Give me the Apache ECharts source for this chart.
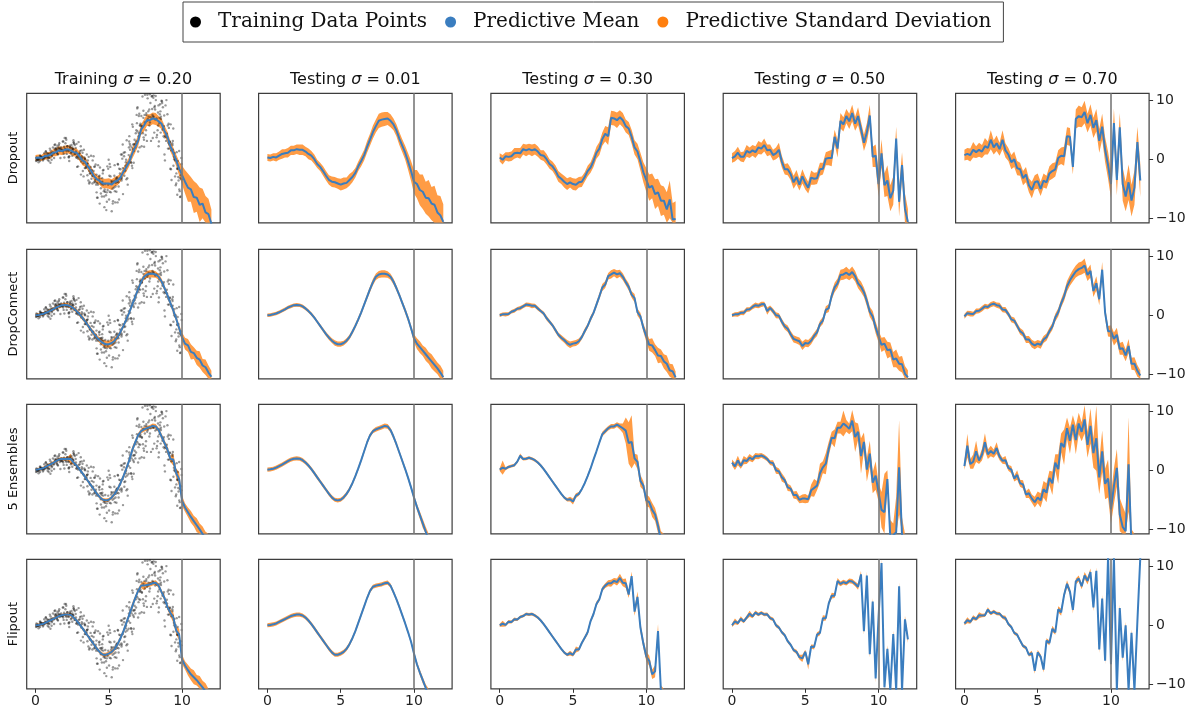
<!DOCTYPE html>
<html>
<head>
<meta charset="utf-8">
<script src="https://cdn.jsdelivr.net/npm/echarts@6.0.0/dist/echarts.min.js"></script>
<style>
html, body { margin: 0; padding: 0; background: #fff; }
#main { width: 1194px; height: 715px; }
</style>
</head>
<body>
<div id="main"></div>
<script>
// x positions shared by every predictive curve
const XS = [0,0.2,0.4,0.6,0.8,1,1.2,1.4,1.6,1.8,
  2,2.2,2.4,2.6,2.8,3,3.2,3.4,3.6,3.8,
  4,4.2,4.4,4.6,4.8,5,5.2,5.4,5.6,5.8,
  6,6.2,6.4,6.6,6.8,7,7.2,7.4,7.6,7.8,
  8,8.2,8.4,8.6,8.8,9,9.2,9.4,9.6,9.8,
  10,10.2,10.4,10.6,10.8,11,11.2,11.4,11.6,11.8,
  12];

// training points (same set in every row)
const TRAIN_X = [0.27,0.04,0.41,0.16,0.33,0.09,0.48,0.21,0.36,0.12,
  0.86,0.53,0.71,0.95,0.62,0.79,0.57,0.91,0.66,0.83,
  1.31,1.06,1.44,1.19,1.02,1.38,1.25,1.49,1.11,1.34,
  1.64,1.92,1.55,1.77,1.86,1.51,1.69,1.97,1.60,1.82,
  2.17,2.42,2.08,2.31,2.01,2.46,2.22,2.13,2.37,2.27,
  2.74,2.56,2.91,2.63,2.84,2.52,2.97,2.68,2.79,2.59,
  3.09,3.36,3.21,3.47,3.02,3.28,3.14,3.41,3.18,3.33,
  3.66,3.52,3.88,3.71,3.57,3.94,3.61,3.79,3.99,3.84,
  4.21,4.04,4.38,4.12,4.46,4.27,4.08,4.33,4.17,4.42,
  4.62,4.87,4.55,4.74,4.96,4.68,4.51,4.83,4.59,4.92,
  5.18,5.41,5.06,5.29,5.47,5.12,5.36,5.02,5.23,5.44,
  5.71,5.54,5.88,5.63,5.97,5.79,5.58,5.92,5.67,5.83,
  6.22,6.06,6.39,6.14,6.47,6.29,6.02,6.35,6.18,6.43,
  6.61,6.84,6.53,6.77,6.92,6.66,6.58,6.96,6.71,6.88,
  7.26,7.08,7.41,7.16,7.33,7.47,7.03,7.22,7.38,7.12,
  7.69,7.51,7.84,7.62,7.93,7.77,7.56,7.88,7.65,7.98,
  8.14,8.37,8.06,8.29,8.46,8.21,8.02,8.33,8.11,8.42,
  8.78,8.56,8.91,8.64,8.83,8.52,8.97,8.69,8.74,8.87,
  9.22,9.04,9.37,9.13,9.46,9.28,9.08,9.41,9.17,9.33,
  9.67,9.53,9.86,9.61,9.92,9.74,9.57,9.97,9.81,9.69,
  0.06,0.15,0.22,0.35,0.41,0.55,0.63,0.74,0.83,0.94,
  1.05,1.16,1.25,1.37,1.46,1.58,1.66,1.75,1.86,1.95,
  2.06,2.17,2.27,2.36,2.46,2.57,2.66,2.76,2.86,2.95,
  3.06,3.16,3.27,3.37,3.46,3.56,3.66,3.76,3.86,3.96,
  4.06,4.16,4.26,4.36,4.46,4.56,4.66,4.76,4.86,4.96,
  5.06,5.16,5.26,5.36,5.46,5.56,5.66,5.76,5.86,5.96,
  6.06,6.16,6.26,6.36,6.46,6.56,6.66,6.76,6.86,6.96,
  7.06,7.16,7.26,7.36,7.46,7.56,7.66,7.76,7.86,7.96,
  8.06,8.16,8.26,8.36,8.46,8.56,8.66,8.76,8.86,8.96,
  9.06,9.16,9.26,9.36,9.46,9.56,9.66,9.76,9.86,9.96,
  0.3,0.9,1.3,1.7,2.1,2.6,2.9,3.3,3.7,3.9,
  4.2,4.4,4.7,4.9,5.2,5.4,5.7,5.9,6.2,6.4,
  6.7,6.9,7.1,7.3,7.6,7.8,8.0,8.2,8.4,8.6,
  8.8,9.0,9.2,9.4,9.6,9.8,9.9,1.1,2.3,3.5,
  4.1,5.1,6.1,7.0,8.1,9.1,0.7,1.9,2.8,3.1,
  4.6,5.6,6.6,7.4,8.5,9.7,
  0.07,0.19,0.31,0.39,0.45,0.51,0.6,0.69,0.81,0.98,
  1.03,1.14,1.27,1.4,1.47,1.53,1.62,1.74,1.89,1.99,
  2.04,2.11,2.26,2.35,2.49,2.51,2.61,2.72,2.81,2.94,
  3.04,3.12,3.23,3.38,3.49,3.54,3.63,3.74,3.82,3.96,
  4.02,4.14,4.24,4.37,4.49,4.53,4.64,4.72,4.81,4.99,
  5.04,5.14,5.27,5.38,5.49,5.52,5.61,5.74,5.87,5.95,
  6.04,6.12,6.26,6.37,6.45,6.51,6.64,6.73,6.81,6.94,
  7.05,7.14,7.24,7.36,7.44,7.54,7.63,7.72,7.81,7.95,
  8.04,8.17,8.26,8.39,8.48,8.54,8.62,8.72,8.81,8.93,
  9.02,9.11,9.24,9.35,9.44,9.52,9.63,9.76,9.84,9.95];
const TRAIN_Y = [0.1,-0.3,0.3,-0.1,0.6,-0.2,0.2,-0.5,0.4,0.0,
  0.9,0.0,1.3,0.2,0.4,1.0,0.2,0.3,0.6,-0.1,
  1.8,1.1,1.1,2.0,-0.6,1.7,1.1,2.3,0.5,2.5,
  1.8,0.9,2.0,1.5,3.0,0.9,1.8,0.3,2.4,1.6,
  2.2,1.0,3.6,0.5,1.8,2.4,1.5,0.9,2.0,0.3,
  1.9,1.7,0.1,2.6,-1.3,2.0,0.4,2.4,0.3,3.2,
  2.2,-1.5,1.1,-1.2,1.0,-2.9,1.5,-1.5,0.2,0.3,
  -4.1,-0.8,-4.1,-2.4,-0.2,-2.8,-3.6,0.6,-3.9,-1.8,
  -4.0,-1.2,-7.5,-3.3,-5.8,-1.0,-3.9,-2.9,-5.6,-3.9,
  -4.3,-7.2,-3.2,-5.5,-1.6,-6.3,-4.2,-8.6,-2.4,-5.2,
  -3.7,-5.4,-0.8,-7.1,-4.0,-2.9,-4.8,-6.8,-3.8,-7.3,
  -1.6,-3.2,-3.3,-0.9,-5.9,-1.7,-3.8,0.1,-4.6,0.8,
  3.2,-2.8,3.0,-1.1,2.3,-4.3,1.1,-0.6,-0.1,2.6,
  -1.5,4.4,-0.6,2.6,6.1,2.5,-1.1,8.8,1.4,4.9,
  5.6,7.7,2.1,5.7,4.4,10.9,3.9,7.3,3.7,5.7,
  8.1,4.1,9.5,6.5,10.6,5.7,7.5,3.1,10.3,7.5,
  9.0,5.7,10.8,4.1,7.0,10.0,7.2,4.9,8.8,3.0,
  7.4,7.2,3.1,9.5,-0.2,8.1,3.7,8.8,3.9,9.1,
  5.9,1.8,3.1,2.5,1.0,-3.5,6.0,-1.1,2.9,2.7,
  -6.0,-0.2,-6.4,-2.4,-2.7,-3.0,-4.4,-0.8,-5.1,-1.6,
  0.05,0.12,-0.05,0.2,0.1,0.35,0.2,0.6,0.4,0.95,
  0.8,1.2,0.95,1.5,1.2,1.8,1.4,2.0,1.5,2.1,
  1.6,2.2,1.4,2.0,1.2,1.7,0.9,1.3,0.5,0.9,
  0.0,0.5,-0.7,0.1,-1.4,-0.7,-2.0,-1.3,-2.8,-2.0,
  -3.6,-2.6,-4.3,-3.3,-4.9,-3.8,-5.4,-4.2,-5.6,-4.3,
  -5.5,-4.1,-5.0,-3.7,-4.6,-3.1,-3.9,-2.4,-3.1,-1.5,
  -2.0,-0.5,-0.9,0.7,0.4,2.0,1.7,3.3,3.0,4.7,
  4.4,6.0,5.5,7.0,6.2,7.8,6.8,8.4,7.1,8.5,
  7.2,8.4,6.9,7.9,6.1,6.8,5.0,5.6,3.9,4.3,
  2.8,3.0,1.5,1.6,0.0,0.0,-1.6,-1.5,-3.2,-3.4,
  0.6,-0.3,2.4,0.2,3.3,2.9,-1.2,1.6,-3.9,-0.2,
  -6.5,-1.4,-8.1,-1.2,-8.8,-1.0,-6.8,0.8,-3.4,3.9,
  -0.6,7.5,2.0,10.6,3.1,11.0,3.6,10.7,2.2,9.9,
  0.8,7.6,-1.6,5.2,-4.1,1.4,-6.3,-0.1,-0.3,0.8,
  -0.9,-1.3,1.2,1.3,4.5,5.3,1.3,3.0,2.6,-2.6,
  -1.9,-7.3,5.9,3.3,9.3,-0.3,
  0.3,-0.1,-0.3,0.4,0.3,-0.2,1.0,0.4,0.3,1.8,
  1.5,0.7,0.2,1.9,1.6,0.8,2.7,1.6,1.3,3.6,
  2.7,1.4,0.4,2.3,1.8,0.6,2.8,0.9,0.3,2.9,
  1.4,-0.4,-2.0,0.0,-0.9,-2.7,0.4,-2.4,-3.3,0.5,
  -1.3,-4.3,-6.5,-2.8,-3.9,-6.3,-1.8,-5.1,-6.1,-0.1,
  -2.8,-5.6,-7.5,-2.8,-3.4,-5.5,-0.8,-3.3,-3.6,2.5,
  0.5,-1.9,-3.2,2.0,1.6,-0.5,5.5,2.5,2.0,8.6,
  7.3,4.3,2.2,8.2,7.5,4.9,10.9,7.2,6.2,10.7,
  10.4,6.7,3.7,9.1,7.6,4.5,9.8,5.3,3.7,10.0,
  5.7,1.8,-1.7,2.4,0.4,-2.9,1.2,-3.6,-5.4,0.2];

const METHODS = ['Dropout', 'DropConnect', '5 Ensembles', 'Flipout'];
const COL_KIND = ['Training', 'Testing', 'Testing', 'Testing', 'Testing'];
const COL_SIGMA = ['0.20', '0.01', '0.30', '0.50', '0.70'];
const X_TICKS = [0, 5, 10];
const Y_TICKS = [-10, 0, 10];

// smooth mean shape of each method
const BASE_DROPOUT = [0.2,0.2,0.3,0.4,0.6,0.8,1.0,1.2,1.4,1.5,
  1.6,1.6,1.5,1.3,1.0,0.5,0.0,-0.6,-1.3,-2.1,
  -2.8,-3.4,-3.8,-4.0,-4.1,-4.2,-4.2,-4.0,-3.6,-3.0,
  -2.2,-1.3,-0.3,0.8,2.0,3.3,4.6,5.7,6.4,6.7,
  6.8,6.8,6.6,5.9,4.8,3.6,2.3,1.0,-0.4,-2.0,
  -3.7,-4.4,-5.0,-5.6,-6.2,-6.8,-7.4,-8.0,-8.8,-9.6,
  -10.6];
const BASE_DROPCONNECT = [0.0,0.05,0.15,0.3,0.5,0.75,1.0,1.3,1.5,1.7,
  1.75,1.7,1.5,1.15,0.7,0.2,-0.4,-1.1,-1.8,-2.5,
  -3.2,-3.8,-4.3,-4.7,-4.9,-4.9,-4.7,-4.3,-3.7,-2.8,
  -1.8,-0.7,0.5,1.8,3.1,4.4,5.6,6.5,6.9,7.0,
  7.0,6.9,6.5,5.7,4.6,3.4,2.1,0.8,-0.6,-2.2,
  -3.9,-4.8,-5.4,-6.0,-6.6,-7.2,-7.8,-8.4,-9.0,-9.7,
  -10.5];
const BASE_ENSEMBLE = [0.1,0.15,0.25,0.45,0.7,0.95,1.25,1.55,1.8,1.95,
  2.0,1.95,1.7,1.3,0.8,0.2,-0.5,-1.2,-1.9,-2.6,
  -3.3,-4.0,-4.6,-5.0,-5.1,-5.0,-4.6,-4.0,-3.2,-2.2,
  -1.0,0.3,1.7,3.2,4.7,5.9,6.6,6.9,7.1,7.3,
  7.5,7.4,6.8,5.7,4.4,3.0,1.6,0.2,-1.3,-2.9,
  -4.6,-6.2,-7.6,-9.0,-10.4,-11.8,-13.0,-14.0,-15.0,-16.0,
  -17.0];
const BASE_FLIPOUT = [0.0,0.05,0.15,0.3,0.55,0.8,1.05,1.3,1.55,1.7,
  1.8,1.8,1.65,1.3,0.8,0.2,-0.5,-1.2,-1.9,-2.6,
  -3.3,-4.0,-4.6,-5.0,-5.0,-4.8,-4.5,-4.0,-3.2,-2.2,
  -1.0,0.4,1.8,3.2,4.6,5.8,6.5,6.7,6.8,6.9,
  7.1,7.2,6.7,5.6,4.4,3.1,1.7,0.3,-1.2,-2.8,
  -4.8,-6.6,-8.0,-9.3,-10.6,-12.0,-13.0,-14.0,-15.0,-16.0,
  -17.0];

// per panel deviations of the mean from the shape above (null = none)
const OFF_DROPOUT = [
  [0,0.1,-0.1,0.1,0,-0.1,0.1,0,0.1,-0.1,
   0,0.1,0,-0.1,0.1,0,-0.2,0.1,0,0.1,
   -0.1,0,0.1,-0.1,0,0.1,-0.1,0.2,0,-0.1,
   0.1,0,-0.1,0.2,0,-0.2,0.4,0,0.2,-0.1,
   0.1,0,-0.2,0.1,0,0.2,-0.1,0.1,0.2,0.4,
   1.0,0.6,0.2,0.5,-0.2,0.3,-0.3,0.5,-0.2,0.3,
   -0.3],
  [0.1,0,0.1,-0.1,0,0.1,0,-0.1,0.1,0,
   0.1,0,0.1,0,-0.1,0.1,0,-0.2,0,0.1,
   0,-0.1,0,0.1,0,-0.1,0.1,0,0.1,0,
   -0.1,0.1,0,-0.1,0.1,0,0,-0.1,0.1,0,
   0,0.1,-0.1,0,0.1,-0.1,0,0.1,0,0,
   -0.1,0.2,-0.2,0.1,-0.3,0.2,-0.1,0.3,-0.2,0.1,
   0],
  [0.1,-0.3,0.2,0,-0.1,0.2,0.1,-0.2,0.3,0,
   0.1,-0.1,0.2,0,-0.3,0.1,0,-0.2,0.1,0.2,
   -0.1,0.1,0,-0.2,0.2,0,-0.1,0.1,-0.2,0,
   0.2,-0.1,0,0.3,-0.2,0.1,-0.3,-1.8,0.6,0.2,
   -0.2,0.3,0,-0.3,0.4,0.2,-0.3,0.3,0,-0.2,
   0.2,-0.4,0.5,-0.3,0.6,-0.2,0.4,-0.5,2.0,-0.6,
   0.5],
  [0,0.3,0.8,0,-0.2,0.6,0.1,0.3,-0.2,0.5,
   0.2,0.8,0,0.3,-0.3,0.5,1.6,0.2,-0.4,0.4,
   0.3,-0.5,0.8,-0.3,1.2,0.2,-0.6,0.9,0.3,-0.2,
   0.5,-0.3,0.4,-0.6,-1.8,0.5,-2.8,0.8,-0.5,0.6,
   -0.4,1.0,-0.6,1.4,0.3,-0.8,2.2,6.4,0.8,2.6,
   -0.5,5.4,0.6,2.0,-0.4,1.5,10.9,0.8,7.8,1.2,
   0],
  [0.5,0.7,0.4,1.2,0.6,0.8,0.3,1.0,0.5,1.8,
   0.4,1.1,0.2,2.0,0.5,0.3,-0.5,0.6,-0.2,0.4,
   -0.4,0.8,-0.6,-1.2,0.2,0.5,-0.8,0.4,-0.3,0.6,
   0.2,-0.4,0.5,-0.2,-1.5,0.6,-0.8,-7.0,0.4,0.6,
   0.3,1.2,-0.5,1.6,0.5,3.0,0.8,4.5,2.0,1.0,
   -0.5,10.5,1.5,11.0,2.0,0.5,3.5,1.0,4.0,12.5,
   7.0]
];
const SD_DROPOUT = [
  [0.5,0.5,0.5,0.6,0.6,0.6,0.6,0.7,0.7,0.7,
   0.7,0.7,0.7,0.7,0.7,0.8,0.8,0.8,0.7,0.7,
   0.7,0.7,0.7,0.8,0.8,0.9,0.9,0.8,0.8,0.7,
   0.7,0.8,0.8,0.9,0.9,0.9,0.9,1.0,1.0,1.0,
   1.0,1.0,0.9,0.9,0.9,0.9,0.9,0.9,1.0,1.2,
   1.6,2.0,2.4,2.1,2.7,2.4,2.9,2.5,2.8,2.6,
   2.4],
  [0.6,0.6,0.6,0.7,0.7,0.8,0.7,0.8,0.8,0.8,
   0.8,0.9,0.9,0.8,0.9,0.8,0.8,0.7,0.7,0.8,
   0.8,0.8,0.9,0.9,0.9,1.0,1.0,0.9,1.0,0.9,
   0.8,0.8,0.9,0.9,1.0,1.0,1.1,1.1,1.2,1.2,
   1.2,1.1,1.1,1.0,1.0,1.1,1.1,1.2,1.4,1.7,
   2.0,2.4,2.6,2.9,2.7,3.1,2.8,3.2,2.9,3.3,
   3.0],
  [0.7,0.8,0.7,0.8,0.8,0.9,0.8,0.9,0.9,1.0,
   0.9,1.0,0.9,0.9,0.8,0.9,0.9,0.8,0.8,0.9,
   0.9,0.9,1.0,1.0,0.9,1.0,1.0,0.9,0.9,0.8,
   0.9,0.9,1.0,1.0,1.1,1.1,1.3,1.5,1.2,1.2,
   1.3,1.2,1.2,1.1,1.1,1.2,1.2,1.3,1.5,1.7,
   2.0,2.2,2.1,2.5,2.3,2.6,2.4,2.9,3.2,2.8,
   3.0],
  [0.8,0.9,1.0,0.8,0.9,1.0,0.9,0.9,1.0,1.1,
   1.0,1.1,1.0,0.9,0.9,1.0,1.2,1.0,0.9,1.0,
   1.0,1.1,1.2,1.0,1.2,1.1,1.0,1.2,1.0,1.0,
   1.1,1.0,1.1,1.2,1.4,1.2,1.5,1.3,1.2,1.2,
   1.3,1.4,1.2,1.5,1.3,1.4,1.6,1.8,1.7,1.9,
   2.2,2.4,2.0,2.6,2.2,2.4,2.0,2.5,2.2,2.6,
   2.2],
  [0.9,1.0,1.1,1.3,1.0,1.2,1.1,1.4,1.1,1.6,
   1.2,1.3,1.1,1.6,1.2,1.1,1.2,1.3,1.2,1.1,
   1.2,1.3,1.2,1.4,1.2,1.3,1.2,1.2,1.1,1.2,
   1.3,1.2,1.3,1.4,1.6,1.5,1.5,1.3,1.6,1.8,
   1.7,1.9,1.6,1.8,1.7,1.9,2.0,2.2,2.1,2.3,
   2.4,2.5,2.6,2.4,2.8,2.5,3.0,2.7,2.9,2.6,
   2.8]
];

const OFF_DROPCONNECT = [
  [0,0,0,0,0,0,0,0,0,0,
   0,0,0,0,0,0,0,0,0,0,
   0,0,0,0,0,0,0,0,0,0,
   0,0,0,0,0,0,0,0,0,0,
   0,0,0,0,0,0,0,0,0,0,
   0.2,0,0.3,-0.2,0.2,0,0.3,-0.1,0.2,0,
   0.1],
  null,
  [0,0.1,0,-0.1,0.1,0,0.1,-0.1,0,0.1,
   0,-0.1,0.1,0,0,0.1,-0.1,0,0.1,0,
   -0.1,0,0.1,0,-0.1,0.1,0,-0.1,0,0.1,
   0,0.1,-0.1,0,0.1,0.3,-0.4,0.1,0,0.2,
   -0.1,0.2,0,-0.1,0.2,0.1,0.8,-0.3,0.4,0.1,
   0.3,-0.2,0.3,0.1,-0.2,0.3,0,0.2,-0.3,0.2,
   0],
  [0,0.1,0,0.1,-0.1,0.2,0,0.1,0.2,-0.1,
   0.1,0.2,-0.8,0.1,0,-0.2,0.3,0,-0.1,0.2,
   0,-0.2,0.1,0.3,-0.3,0.2,-0.1,0,0.2,-0.1,
   0.3,-0.2,0.4,-0.6,0.2,0.3,-0.2,0.3,0,0.2,
   -0.2,0.4,0.1,-0.3,0.2,0.5,0.3,-0.2,0.4,0.1,
   0.3,-0.2,0.6,0.1,0.8,-0.3,0.5,0.2,0.7,-0.2,
   0],
  [-0.2,0.3,0.1,-0.1,0.2,0,0.1,0.2,-0.1,0.1,
   0.2,0,0.1,-0.2,0.2,0,-0.3,0.2,0,-0.2,
   0.1,-0.3,0.2,-0.1,-0.2,0.1,-0.3,0.2,0,0.1,
   -0.1,0.3,0,0.2,0.1,0.5,0.3,0.2,0.5,0.8,
   1.0,1.5,0.3,1.8,-0.5,2.0,0.6,6.9,1.0,-0.5,
   1.2,0.8,2.1,0.3,1.0,0.4,2.6,0.2,0.8,0.3,
   0.3]
];
const SD_DROPCONNECT = [
  [0.3,0.3,0.3,0.3,0.3,0.3,0.3,0.35,0.35,0.35,
   0.35,0.35,0.35,0.35,0.35,0.4,0.4,0.4,0.4,0.4,
   0.45,0.45,0.5,0.55,0.6,0.6,0.55,0.5,0.45,0.4,
   0.4,0.4,0.4,0.4,0.45,0.5,0.5,0.55,0.6,0.6,
   0.6,0.55,0.5,0.5,0.45,0.45,0.45,0.5,0.5,0.6,
   0.8,1.0,1.1,1.3,1.0,1.2,1.4,1.1,1.3,1.2,
   1.0],
  [0.3,0.3,0.3,0.3,0.3,0.3,0.3,0.3,0.3,0.3,
   0.3,0.3,0.3,0.3,0.3,0.3,0.3,0.3,0.3,0.35,
   0.35,0.4,0.4,0.45,0.45,0.45,0.4,0.4,0.4,0.4,
   0.4,0.4,0.4,0.4,0.45,0.5,0.55,0.55,0.6,0.6,
   0.6,0.55,0.5,0.5,0.45,0.45,0.45,0.5,0.5,0.55,
   0.7,0.9,1.0,0.9,1.1,1.0,1.2,1.1,1.0,1.2,
   1.1],
  [0.3,0.3,0.35,0.3,0.3,0.35,0.3,0.35,0.3,0.35,
   0.35,0.4,0.35,0.35,0.3,0.35,0.4,0.35,0.35,0.4,
   0.4,0.45,0.45,0.5,0.55,0.5,0.5,0.45,0.4,0.45,
   0.4,0.45,0.4,0.5,0.5,0.6,0.6,0.55,0.7,0.6,
   0.7,0.6,0.6,0.55,0.6,0.55,0.7,0.6,0.6,0.7,
   0.9,1.0,1.2,1.0,1.3,1.1,1.2,1.4,1.1,1.2,
   1.0],
  [0.3,0.35,0.4,0.35,0.4,0.4,0.35,0.4,0.45,0.4,
   0.45,0.4,0.6,0.4,0.45,0.5,0.45,0.5,0.5,0.55,
   0.55,0.6,0.6,0.65,0.7,0.65,0.6,0.6,0.55,0.6,
   0.55,0.6,0.6,0.65,0.7,0.8,0.8,0.9,0.9,1.0,
   0.9,0.95,0.9,0.85,0.9,0.8,0.9,0.85,0.9,1.0,
   1.0,1.2,1.1,1.4,1.2,1.3,1.5,1.2,1.4,1.3,
   1.2],
  [0.4,0.4,0.45,0.4,0.45,0.4,0.45,0.45,0.4,0.45,
   0.45,0.45,0.5,0.45,0.5,0.45,0.5,0.5,0.5,0.55,
   0.55,0.6,0.6,0.65,0.65,0.6,0.65,0.6,0.6,0.6,
   0.6,0.65,0.7,0.7,0.8,0.9,0.9,1.0,1.0,1.1,
   1.1,1.2,1.0,1.1,1.0,1.2,1.0,1.3,1.0,0.9,
   1.0,1.1,1.2,1.0,1.1,1.0,1.2,1.0,1.1,1.0,
   0.9]
];

const OFF_ENSEMBLE = [
  [0,0,0,0,0,0,0,0,0,0,
   -0.1,0,0.2,0,0,0,0,0,0,0,
   0,0,0,0,0,0,0,0,0,0,
   0,0,0,0.2,0,0,0,0,0,0,
   0,0,0,0,0.2,0.5,0.3,1.6,0.8,1.4,
   -0.6,-0.1,0.5,1.1,1.8,2.5,3.0,3.2,3.5,3.7,
   3.9],
  null,
  [0,0.3,0,0.1,0,-0.1,0.2,0.9,0.1,0,
   0.1,0,0,0,0,0,0,0,0,0,
   0,0,0,0,0.2,-0.3,0.3,0,0,0,
   0,0,0.1,0,0,0.2,0,0.2,0.3,0.1,
   0.2,0,0.3,1.0,0.2,1.8,0.4,1.2,-0.5,0.3,
   -0.5,0.8,0.9,1.5,1.0,0,0,0,0,0,
   0],
  [1.2,0.5,1.4,0.3,1.0,0.6,0.9,0.3,0.6,0.4,
   0.5,0.3,0.2,0,0.4,-0.2,0.3,0,0.2,-0.3,
   0.2,-0.2,0.4,0,0.3,0.2,-0.3,0.6,0.2,-0.4,
   0.5,0.2,-0.6,0.4,0.8,-0.5,0.6,0.3,0.8,0.2,
   -0.5,1.0,-1.2,0.8,-2.0,1.8,-1.5,2.6,-0.8,2.0,
   0.8,-0.5,0.5,7.5,-1.0,0.8,2.5,14.5,4.0,0.5,
   0],
  [0.6,4.0,0.8,1.0,2.5,0.7,1.4,3.2,0.9,1.3,
   0.8,1.8,0.6,0.3,0.9,0.2,0.6,-0.2,1.1,0.4,
   0.9,-0.1,0.7,0.2,-0.3,0.4,-0.5,0.8,-0.6,0.9,
   -1.2,1.0,-1.5,1.4,-0.8,1.2,-1.6,0.8,-2.0,0.6,
   -1.0,1.2,-2.5,1.8,-1.5,2.4,-2.8,3.0,-1.0,1.5,
   -2.0,3.5,8.0,1.5,0.8,1.5,14.0,1.0,-0.5,2.0,
   0]
];
const SD_ENSEMBLE = [
  [0.25,0.25,0.25,0.25,0.3,0.3,0.3,0.3,0.3,0.3,
   0.3,0.35,0.9,0.35,0.3,0.3,0.3,0.3,0.3,0.3,
   0.3,0.3,0.3,0.3,0.3,0.3,0.3,0.35,0.35,0.4,
   0.4,0.5,0.4,0.6,0.4,0.4,0.4,0.4,0.4,0.35,
   0.4,0.4,0.4,0.5,0.5,0.6,0.5,1.0,0.8,1.2,
   0.9,0.7,0.8,1.0,0.9,1.2,1.0,1.3,1.1,1.0,
   1.0],
  [0.35,0.35,0.35,0.35,0.35,0.35,0.35,0.35,0.35,0.35,
   0.35,0.35,0.35,0.35,0.35,0.35,0.35,0.35,0.35,0.35,
   0.35,0.35,0.35,0.35,0.35,0.35,0.35,0.35,0.35,0.35,
   0.35,0.35,0.35,0.35,0.35,0.35,0.35,0.4,0.4,0.4,
   0.4,0.4,0.4,0.4,0.4,0.4,0.4,0.4,0.4,0.4,
   0.45,0.55,0.65,0.75,0.85,0.95,1.0,1.1,1.2,1.3,
   1.4],
  [0.25,1.2,0.25,0.25,0.25,0.25,0.25,0.4,0.25,0.25,
   0.25,0.25,0.25,0.25,0.25,0.25,0.25,0.25,0.25,0.25,
   0.25,0.25,0.25,0.3,0.4,0.5,0.4,0.3,0.25,0.25,
   0.3,0.3,0.3,0.3,0.3,0.4,0.4,0.4,0.4,0.4,
   0.4,0.5,0.8,2.2,3.5,4.5,0.8,1.2,1.0,0.8,
   1.0,0.9,1.2,1.1,1.2,1.5,1.5,1.5,1.5,1.5,
   1.5],
  [0.5,0.6,0.8,0.5,0.7,0.5,0.6,0.5,0.5,0.5,
   0.4,0.4,0.4,0.4,0.5,0.6,0.5,0.7,0.5,0.6,
   0.5,0.6,0.7,0.6,0.7,0.8,0.6,1.0,1.5,0.8,
   1.6,1.0,1.8,1.2,1.0,1.5,1.0,1.0,2.2,1.0,
   0.9,1.8,2.5,1.4,3.0,1.6,2.0,2.2,1.8,2.4,
   1.5,3.0,6.5,1.5,3.0,2.0,6.0,8.0,3.0,2.0,
   1.5],
  [0.6,2.0,0.8,1.2,1.8,0.6,1.0,1.5,0.8,0.9,
   0.7,1.0,0.6,0.5,0.7,0.5,0.6,0.5,0.8,0.6,
   0.7,0.6,0.8,0.7,0.9,1.0,1.2,1.4,1.6,1.2,
   2.0,1.4,2.5,1.6,3.0,1.8,2.2,1.6,2.4,1.8,
   1.6,2.4,2.2,3.0,2.5,5.5,2.8,3.5,2.6,3.2,
   2.5,3.0,3.2,2.8,3.5,3.0,8.0,3.0,2.5,3.0,
   2.5]
];

const OFF_FLIPOUT = [
  [0,0,0,0,0,0,0,0,0,0,
   0,0,0.1,0,0,0,0,0,0,0,
   0,0,0,0,0,0,0,0,0,0,
   0,0,0,0,0,0,0.2,0,0,0,
   0,0,0,0,0.2,0,0.4,1.0,0.3,1.2,
   -1.0,-0.2,0.4,1.0,1.8,2.7,3.1,3.5,3.8,4.0,
   4.0],
  null,
  [0,0.2,-0.1,0.3,0,0.2,-0.1,0.1,0,0.2,
   0,0.1,0,0,0,0,0,0,0,0,
   0,0,0,0,0.3,-0.2,0.4,-0.1,0.2,0.1,
   -0.2,0.3,0.1,0.4,-0.2,0.3,0.2,0.4,0.3,0.6,
   0.2,0.8,0.5,1.5,0.8,5.2,0.6,4.5,0.8,-0.3,
   -0.5,0.6,-0.3,1.5,9.6,0.8,0,0,0,0,
   0],
  [0,0.6,0.2,0.8,0.1,0.5,0.9,0.2,0.6,0.1,
   0.3,0,0.2,-0.1,0.2,-0.2,0.1,0,0.2,-0.1,
   0,-0.2,0.1,-0.4,-0.6,0.3,-2.1,0.4,-0.5,0.6,
   -0.3,0.8,-0.6,0.5,0.4,-0.8,1.0,0.3,0.5,0.2,
   0.4,0.2,0.3,0.9,4.2,-4.1,6.7,-5.2,5.2,-6.2,
   6.3,17.1,-2.5,5.3,-0.4,10.5,2.0,20.6,4.0,17.0,
   14.6],
  [0.3,0.8,0.4,1.0,0.5,0.9,0.6,0.4,1.1,0.3,
   0.5,0.2,0.3,0.1,0.4,0,0.2,-0.1,0.3,0,
   -0.2,0.2,-0.4,0.3,-2.7,0.2,-0.8,-3.5,0.6,-0.8,
   0.4,-1.6,0.9,-1.0,0.5,1.2,-0.8,-4.1,0.6,1.0,
   -0.5,1.2,0.8,3.4,-1.4,6.1,-5.8,4.2,-4.8,14.3,
   -1.8,18.1,-3.0,12.2,5.1,12.0,2.0,12.7,4.0,16.6,
   28.5]
];
const SD_FLIPOUT = [
  [0.25,0.25,0.25,0.25,0.25,0.25,0.25,0.25,0.25,0.25,
   0.25,0.3,0.3,0.3,0.3,0.3,0.3,0.3,0.3,0.3,
   0.3,0.3,0.3,0.35,0.35,0.35,0.35,0.35,0.35,0.4,
   0.4,0.5,0.4,0.6,0.4,0.4,0.4,0.8,0.4,0.4,
   0.4,0.4,0.4,0.4,0.5,0.5,0.6,0.9,0.7,1.0,
   0.8,0.7,0.9,1.0,1.2,0.9,1.3,1.1,1.4,1.2,
   1.0],
  [0.35,0.35,0.35,0.35,0.35,0.35,0.35,0.35,0.35,0.35,
   0.35,0.35,0.35,0.35,0.35,0.35,0.35,0.35,0.35,0.35,
   0.35,0.35,0.35,0.35,0.35,0.35,0.35,0.35,0.35,0.35,
   0.35,0.35,0.35,0.35,0.35,0.35,0.35,0.35,0.35,0.35,
   0.35,0.35,0.35,0.35,0.35,0.35,0.35,0.35,0.35,0.35,
   0.4,0.45,0.5,0.55,0.6,0.6,0.6,0.6,0.6,0.6,
   0.6],
  [0.25,0.5,0.25,0.3,0.25,0.3,0.25,0.25,0.25,0.25,
   0.25,0.25,0.25,0.25,0.25,0.25,0.25,0.25,0.25,0.25,
   0.25,0.25,0.25,0.25,0.4,0.3,0.5,0.3,0.3,0.3,
   0.4,0.3,0.4,0.4,0.3,0.4,0.4,0.5,0.6,0.5,
   0.6,0.7,0.6,0.8,0.6,0.8,0.7,0.9,0.8,0.8,
   0.8,0.9,0.8,1.0,1.2,1.0,1.0,1.0,1.0,1.0,
   1.0],
  [0.3,0.5,0.3,0.4,0.3,0.35,0.5,0.3,0.35,0.3,
   0.3,0.3,0.3,0.3,0.3,0.35,0.3,0.3,0.3,0.3,
   0.3,0.3,0.35,0.4,0.6,0.35,0.9,0.35,0.4,0.4,
   0.4,0.5,0.4,0.4,0.5,0.4,0.5,0.4,0.4,0.4,
   0.4,0.4,0.4,0.5,0.6,0.6,0.7,0.6,0.6,0.7,
   0.6,0.7,0.6,0.6,0.6,0.6,0.6,0.7,0.6,0.6,
   0.6],
  [0.3,0.5,0.3,0.4,0.3,0.5,0.3,0.3,0.4,0.3,
   0.3,0.3,0.3,0.3,0.4,0.3,0.3,0.3,0.3,0.3,
   0.3,0.3,0.3,0.4,0.5,0.4,0.4,0.5,0.4,0.4,
   0.5,0.4,0.5,0.6,0.5,0.6,0.5,0.6,0.5,0.5,
   0.5,0.6,0.6,0.6,0.6,0.6,0.6,0.6,0.6,0.6,
   0.6,0.6,0.6,0.6,0.6,0.6,0.6,0.6,0.6,0.6,
   0.6]
];

const BASES = [BASE_DROPOUT, BASE_DROPCONNECT, BASE_ENSEMBLE, BASE_FLIPOUT];
const OFFS = [OFF_DROPOUT, OFF_DROPCONNECT, OFF_ENSEMBLE, OFF_FLIPOUT];
const SDS = [SD_DROPOUT, SD_DROPCONNECT, SD_ENSEMBLE, SD_FLIPOUT];

// sanity check on hand-typed lengths
const bad = [];
BASES.forEach((b, r) => {
  if (b.length !== XS.length) bad.push('base' + r + ':' + b.length);
  OFFS[r].forEach((o, c) => { if (o && o.length !== XS.length) bad.push('off' + r + c + ':' + o.length); });
  SDS[r].forEach((s, c) => { if (s.length !== XS.length) bad.push('sd' + r + c + ':' + s.length); });
});
if (TRAIN_X.length !== TRAIN_Y.length) bad.push('train ' + TRAIN_X.length + '/' + TRAIN_Y.length);
if (bad.length) throw new Error('length mismatch ' + bad.join(' '));

const BLUE = '#3a7dbf';
const ORANGE = '#ff7f0e';
const BAND_FILL = '#ff9c45';
const FONT = 'DejaVu Sans';
const GRID_LEFT = [26.7, 258.6, 490.9, 723.2, 955.6];
const GRID_TOP = [93.3, 249.3, 404.3, 559.3];
const GRID_W = 193.5, GRID_H = 129.5;

// whole band (mean - sd .. mean + sd) as one polygon through the axis scales
function renderBand(params, api) {
  if (params.dataIndexInside !== 0) return null;
  const n = params.dataInsideLength;
  const upper = [], lower = [];
  for (let j = 0; j < n; j++) {
    const x = api.value(0, j);
    upper.push(api.coord([x, api.value(2, j)]));
    lower.push(api.coord([x, api.value(1, j)]));
  }
  const cs = params.coordSys;
  const pts = echarts.graphic.clipPointsByRect(upper.concat(lower.reverse()),
    { x: cs.x, y: cs.y, width: cs.width, height: cs.height });
  return { type: 'polygon', shape: { points: pts }, style: { fill: BAND_FILL } };
}

const grids = [], xAxes = [], yAxes = [], series = [], graphics = [];

for (let r = 0; r < 4; r++) {
  for (let c = 0; c < 5; c++) {
    const p = r * 5 + c;
    const base = BASES[r], off = OFFS[r][c], sd = SDS[r][c];
    const mean = base.map((v, i) => +(v + (off ? off[i] : 0)).toFixed(2));

    grids.push({
      left: GRID_LEFT[c], top: GRID_TOP[r], width: GRID_W, height: GRID_H,
      show: true, borderColor: '#3d3d3d', borderWidth: 1.2,
      backgroundColor: 'transparent', outerBoundsMode: 'none'
    });
    xAxes.push({
      gridIndex: p, type: 'value', min: -0.6, max: 12.6,
      axisLine: { show: false, onZero: false }, splitLine: { show: false },
      axisTick: { show: r === 3, customValues: X_TICKS, length: 4, lineStyle: { color: '#333' } },
      axisLabel: { show: r === 3, customValues: X_TICKS, fontFamily: FONT, fontSize: 14, color: '#222', margin: 6 }
    });
    yAxes.push({
      gridIndex: p, type: 'value', min: -10.75, max: 11.15, position: 'right',
      axisLine: { show: false, onZero: false }, splitLine: { show: false },
      axisTick: { show: c === 4, customValues: Y_TICKS, length: 4, lineStyle: { color: '#333' } },
      axisLabel: {
        show: c === 4, customValues: Y_TICKS, fontFamily: FONT, fontSize: 14, color: '#222', margin: 7,
        formatter: v => String(v).replace('-', '\u2212')
      }
    });

    series.push({
      name: 'Predictive Standard Deviation', type: 'custom', xAxisIndex: p, yAxisIndex: p,
      data: XS.map((x, i) => [x, +(mean[i] - sd[i]).toFixed(2), +(mean[i] + sd[i]).toFixed(2)]),
      encode: { x: 0, y: [1, 2] }, renderItem: renderBand,
      itemStyle: { color: ORANGE }, silent: true, clip: true, z: 2
    });
    if (c === 0) {
      series.push({
        name: 'Training Data Points', type: 'scatter', xAxisIndex: p, yAxisIndex: p,
        data: TRAIN_X.map((x, i) => [x, TRAIN_Y[i]]),
        symbolSize: 2.4, itemStyle: { color: 'rgba(20,20,20,0.55)' }, silent: true, z: 3
      });
    }
    series.push({
      name: 'Predictive Mean', type: 'line', xAxisIndex: p, yAxisIndex: p,
      data: XS.map((x, i) => [x, mean[i]]),
      symbol: 'none', lineStyle: { color: BLUE, width: 2 }, itemStyle: { color: BLUE },
      silent: true, z: 4,
      markLine: {
        symbol: ['none', 'none'], silent: true, label: { show: false },
        lineStyle: { color: '#7a7a7a', width: 1.8, type: 'solid', opacity: 0.9 },
        data: [{ xAxis: 10 }]
      }
    });
  }
}

for (let c = 0; c < 5; c++) {
  graphics.push({
    type: 'text', x: GRID_LEFT[c] + GRID_W / 2, y: 80,
    style: {
      text: '{n|' + COL_KIND[c] + ' }{s|\u03c3}{n| = ' + COL_SIGMA[c] + '}',
      align: 'center', verticalAlign: 'middle',
      rich: {
        n: { fontFamily: FONT, fontSize: 16, fill: '#111' },
        s: { fontFamily: FONT, fontSize: 16, fontStyle: 'italic', fill: '#111' }
      }
    }
  });
}
for (let r = 0; r < 4; r++) {
  graphics.push({
    type: 'text', x: 14, y: GRID_TOP[r] + GRID_H / 2, rotation: Math.PI / 2,
    style: { text: METHODS[r], fontFamily: FONT, fontSize: 13, fill: '#111', align: 'center', verticalAlign: 'middle' }
  });
}

const chart = echarts.init(document.getElementById('main'));
chart.setOption({
  animation: false,
  backgroundColor: '#fff',
  legend: {
    left: 183, top: 2, selectedMode: false,
    data: [
      { name: 'Training Data Points', itemStyle: { color: '#000', opacity: 1 } },
      { name: 'Predictive Mean', itemStyle: { color: BLUE } },
      { name: 'Predictive Standard Deviation', itemStyle: { color: ORANGE, opacity: 1 } }
    ],
    icon: 'circle', itemWidth: 11, itemHeight: 11, itemGap: 18,
    padding: [10, 12, 10, 7], borderColor: '#444', borderWidth: 1, borderRadius: 0,
    textStyle: { fontFamily: 'DejaVu Serif', fontSize: 20, color: '#111', padding: [0, 0, 0, 12] }
  },
  grid: grids,
  xAxis: xAxes,
  yAxis: yAxes,
  series: series,
  graphic: graphics
});
</script>
</body>
</html>
